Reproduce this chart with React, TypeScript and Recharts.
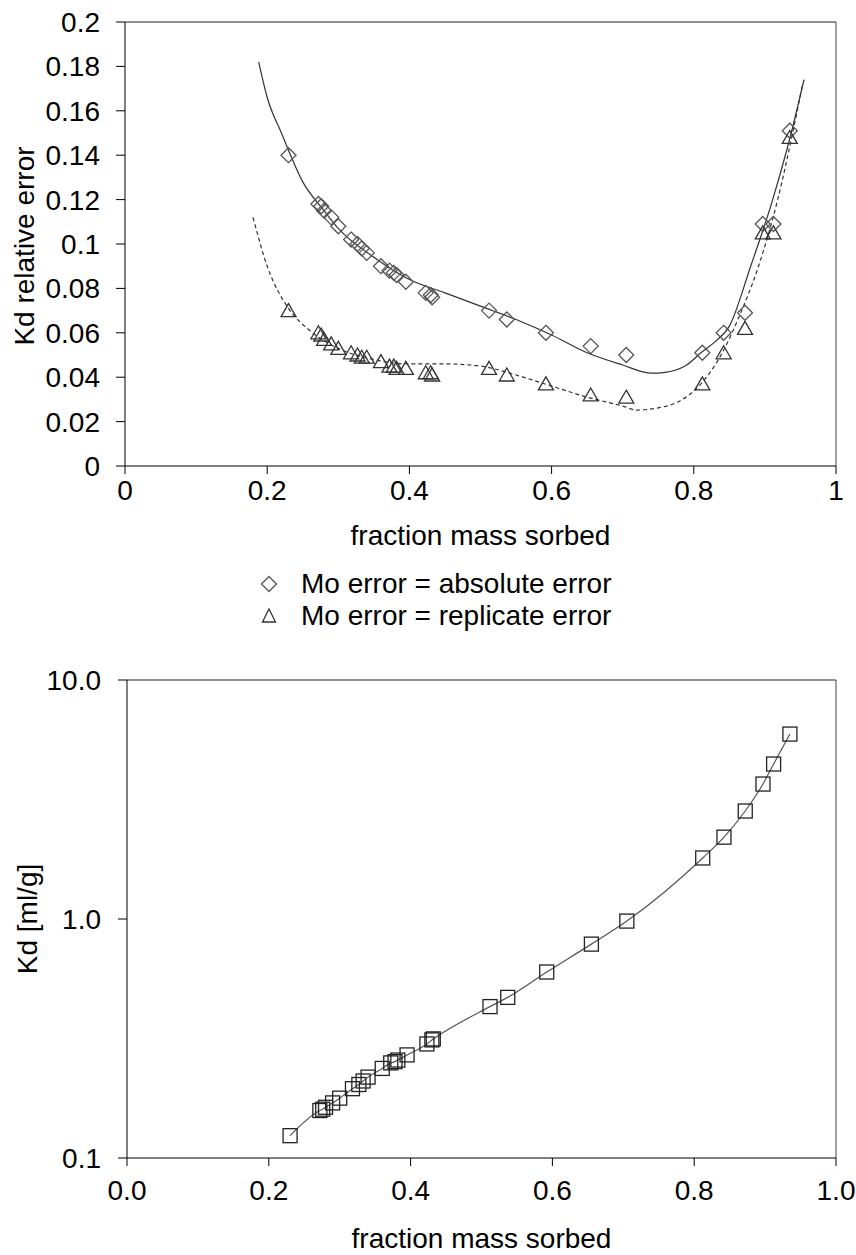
import { ComposedChart, Line, Scatter, XAxis, YAxis, ReferenceLine } from 'recharts';

const FONT = '"Liberation Sans", Arial, Helvetica, sans-serif';

// fraction of mass sorbed for each sample (shared by both panels)
const fraction = [0.23, 0.272, 0.276, 0.28, 0.29, 0.3, 0.318, 0.327, 0.333, 0.34, 0.36, 0.372, 0.378, 0.382, 0.395, 0.423, 0.43, 0.432, 0.512, 0.537, 0.592, 0.655, 0.705, 0.812, 0.842, 0.872, 0.897, 0.912, 0.935];

// Kd relative error, Mo error = absolute error
const absErr = [0.14, 0.118, 0.117, 0.115, 0.112, 0.108, 0.102, 0.1, 0.098, 0.096, 0.09, 0.088, 0.087, 0.086, 0.083, 0.078, 0.077, 0.076, 0.07, 0.066, 0.06, 0.054, 0.05, 0.051, 0.06, 0.069, 0.109, 0.109, 0.151];

// Kd relative error, Mo error = replicate error
const repErr = [0.07, 0.06, 0.059, 0.057, 0.055, 0.053, 0.051, 0.05, 0.049, 0.049, 0.047, 0.045, 0.045, 0.044, 0.044, 0.042, 0.042, 0.041, 0.044, 0.041, 0.037, 0.032, 0.031, 0.037, 0.051, 0.062, 0.105, 0.105, 0.148];

// Kd [ml/g]
const kd = [0.124, 0.158, 0.16, 0.163, 0.17, 0.178, 0.195, 0.203, 0.21, 0.218, 0.237, 0.25, 0.253, 0.257, 0.27, 0.3, 0.312, 0.315, 0.43, 0.47, 0.6, 0.785, 0.98, 1.8, 2.2, 2.83, 3.67, 4.45, 5.94];

// fitted curves
const absFitX = [0.188, 0.2, 0.22, 0.25, 0.28, 0.3, 0.35, 0.4, 0.45, 0.5, 0.55, 0.6, 0.65, 0.7, 0.74, 0.76, 0.79, 0.81, 0.83, 0.85, 0.88, 0.91, 0.937, 0.955];
const absFitY = [0.182, 0.166, 0.15, 0.128, 0.115, 0.107, 0.094, 0.084, 0.078, 0.072, 0.066, 0.059, 0.051, 0.0455, 0.0418, 0.0422, 0.0455, 0.051, 0.056, 0.063, 0.09, 0.119, 0.15, 0.174];

const repFitX = [0.18, 0.2, 0.23, 0.26, 0.3, 0.35, 0.4, 0.45, 0.5, 0.55, 0.6, 0.65, 0.7, 0.72, 0.75, 0.77, 0.81, 0.84, 0.862, 0.891, 0.918, 0.939, 0.953];
const repFitY = [0.112, 0.09, 0.071, 0.061, 0.053, 0.048, 0.046, 0.046, 0.045, 0.041, 0.036, 0.031, 0.027, 0.0252, 0.0262, 0.0278, 0.037, 0.051, 0.066, 0.09, 0.12, 0.15, 0.172];

const topXTicks = [0, 0.2, 0.4, 0.6, 0.8, 1];
const topYTicks = [0, 0.02, 0.04, 0.06, 0.08, 0.1, 0.12, 0.14, 0.16, 0.18, 0.2];
const bottomXTicks = [0, 0.2, 0.4, 0.6, 0.8, 1];
const bottomYTicks = [0.1, 1, 10];

const absPoints = fraction.map((x, i) => ({ x, y: absErr[i] }));
const repPoints = fraction.map((x, i) => ({ x, y: repErr[i] }));
const kdPoints = fraction.map((x, i) => ({ x, y: kd[i] }));
const absFit = absFitX.map((x, i) => ({ x, y: absFitY[i] }));
const repFit = repFitX.map((x, i) => ({ x, y: repFitY[i] }));

const tickStyle = { fill: '#000', fontSize: 28, fontFamily: FONT };

const Diamond = (props: any) => {
    const { cx, cy } = props;
    if (cx == null || cy == null) return null;
    const r = 7.5;
    return <path d={`M${cx},${cy - r}L${cx + r},${cy}L${cx},${cy + r}L${cx - r},${cy}Z`} fill="none" stroke="#555" strokeWidth={1.3} />;
};

const Triangle = (props: any) => {
    const { cx, cy } = props;
    if (cx == null || cy == null) return null;
    return <path d={`M${cx},${cy - 7}L${cx + 7.5},${cy + 6}L${cx - 7.5},${cy + 6}Z`} fill="none" stroke="#333" strokeWidth={1.3} />;
};

const Square = (props: any) => {
    const { cx, cy } = props;
    if (cx == null || cy == null) return null;
    return <rect x={cx - 7} y={cy - 7} width={14} height={14} fill="none" stroke="#222" strokeWidth={1.3} />;
};

// rotated y-axis title, (bx, cy) = baseline x and centre y inside the chart
const yTitle = (text: string, bx: number, cy: number) => () => (
    <text x={bx} y={cy} transform={`rotate(-90 ${bx} ${cy})`} textAnchor="middle"
        fill="#000" fontSize={28} fontFamily={FONT}>
        {text}
    </text>
);

export default function App() {
    return (
        <div style={{ position: 'absolute', left: 0, top: 0, width: 856, height: 1255, background: '#fff', fontFamily: FONT }}>
            {/* Kd relative error vs fraction sorbed */}
            <div style={{ position: 'absolute', left: 0, top: 0 }}>
                <ComposedChart width={856} height={570} margin={{ top: 22, right: 20, bottom: 14, left: 0 }}>
                    <XAxis
                        type="number"
                        dataKey="x"
                        domain={[0, 1]}
                        ticks={topXTicks}
                        interval={0}
                        allowDataOverflow
                        height={90}
                        tickSize={8}
                        tickMargin={6}
                        stroke="#000"
                        tick={tickStyle}
                        label={{ value: 'fraction mass sorbed', position: 'insideBottom', offset: 11, fill: '#000', fontSize: 28, fontFamily: FONT }}
                    />
                    <YAxis
                        type="number"
                        dataKey="y"
                        domain={[0, 0.2]}
                        ticks={topYTicks}
                        interval={0}
                        allowDataOverflow
                        width={125}
                        tickSize={9}
                        tickMargin={16}
                        stroke="#000"
                        tick={tickStyle}
                        label={yTitle('Kd relative error', 34, 246)}
                    />
                    <ReferenceLine y={0.2} stroke="#222" />
                    <ReferenceLine x={1} stroke="#444" />
                    <Line data={absFit} dataKey="y" type="monotone" stroke="#333" strokeWidth={1.2} dot={false} isAnimationActive={false} />
                    <Line data={repFit} dataKey="y" type="monotone" stroke="#333" strokeWidth={1.2} strokeDasharray="4 3" dot={false} isAnimationActive={false} />
                    <Scatter data={absPoints} dataKey="y" shape={Diamond} isAnimationActive={false} />
                    <Scatter data={repPoints} dataKey="y" shape={Triangle} isAnimationActive={false} />
                </ComposedChart>
            </div>

            {/* legend */}
            <div style={{ position: 'absolute', left: 260, top: 568, fontSize: 28, lineHeight: '32px', color: '#000' }}>
                <div style={{ display: 'flex', alignItems: 'center' }}>
                    <svg width={18} height={32}>
                        <path d="M9,8.5L16.5,16L9,23.5L1.5,16Z" fill="none" stroke="#555" strokeWidth={1.3} />
                    </svg>
                    <span style={{ marginLeft: 23 }}>Mo error = absolute error</span>
                </div>
                <div style={{ display: 'flex', alignItems: 'center' }}>
                    <svg width={18} height={32}>
                        <path d="M9,9L15.5,22L2.5,22Z" fill="none" stroke="#333" strokeWidth={1.3} />
                    </svg>
                    <span style={{ marginLeft: 23 }}>Mo error = replicate error</span>
                </div>
            </div>

            {/* Kd vs fraction sorbed, log scale */}
            <div style={{ position: 'absolute', left: 0, top: 650 }}>
                <ComposedChart width={856} height={605} margin={{ top: 30, right: 20, bottom: 5, left: 0 }}>
                    <XAxis
                        type="number"
                        dataKey="x"
                        domain={[0, 1]}
                        ticks={bottomXTicks}
                        interval={0}
                        allowDataOverflow
                        height={92}
                        tickSize={8}
                        tickMargin={14}
                        stroke="#000"
                        tick={tickStyle}
                        tickFormatter={(v: number) => v.toFixed(1)}
                        label={{ value: 'fraction mass sorbed', position: 'insideBottom', offset: 2, fill: '#000', fontSize: 28, fontFamily: FONT }}
                    />
                    <YAxis
                        type="number"
                        dataKey="y"
                        scale="log"
                        domain={[0.1, 10]}
                        ticks={bottomYTicks}
                        interval={0}
                        allowDataOverflow
                        width={127}
                        tickSize={9}
                        tickMargin={17}
                        stroke="#000"
                        tick={tickStyle}
                        tickFormatter={(v: number) => v.toFixed(1)}
                        label={yTitle('Kd [ml/g]', 37, 269)}
                    />
                    <ReferenceLine y={10} stroke="#222" />
                    <ReferenceLine x={1} stroke="#444" />
                    <Line data={kdPoints} dataKey="y" type="monotone" stroke="#555" strokeWidth={1.2} dot={false} isAnimationActive={false} />
                    <Scatter data={kdPoints} dataKey="y" shape={Square} isAnimationActive={false} />
                </ComposedChart>
            </div>
        </div>
    );
}
